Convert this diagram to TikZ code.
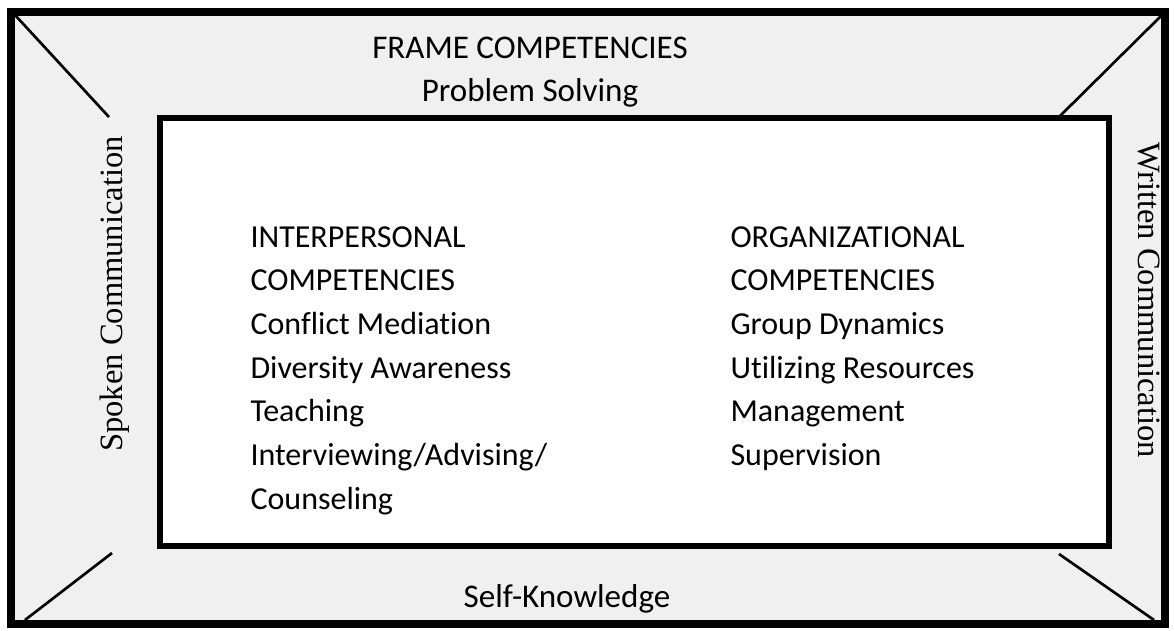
\documentclass[tikz,border=0pt]{standalone}
\usepackage{fontspec}
\setmainfont{Carlito}[Ligatures={NoCommon,NoContextual}]
\newfontfamily\sideface{Liberation Serif}
\definecolor{framegray}{RGB}{240,240,240}

\begin{document}
\begin{tikzpicture}[x=0.375pt, y=-0.375pt,
    every node/.style={inner sep=0pt, font=\fontsize{12}{14}\selectfont},
    sidetext/.style={font=\sideface\fontsize{12.2}{14}\selectfont},
    toptext/.style={font=\fontsize{12.4}{14}\selectfont}]

    % Fix the size of the page
    \useasboundingbox (0,0) rectangle (1174,630);

    % Define the corners of the outer frame and of the inner box
    \coordinate (OA) at (11,12);
    \coordinate (OB) at (1165,624);
    \coordinate (IA) at (160,118);
    \coordinate (IB) at (1109,546);

    % Draw the outer frame and the inner box
    \draw[line width=3pt, fill=framegray] (OA) rectangle (OB);
    \draw[line width=2pt, fill=white] (IA) rectangle (IB);

    % Define the ends of the corner lines
    \coordinate (TL) at (15,15);
    \coordinate (TLi) at (109,117);
    \coordinate (TR) at (1162,15);
    \coordinate (TRi) at (1060,116);
    \coordinate (BL) at (25,620);
    \coordinate (BLi) at (112,553);
    \coordinate (BR) at (1154,620);
    \coordinate (BRi) at (1059,554);

    % Draw the corner lines
    \draw[line width=1pt] (TL) -- (TLi);
    \draw[line width=1pt] (TR) -- (TRi);
    \draw[line width=1pt] (BL) -- (BLi);
    \draw[line width=1pt] (BR) -- (BRi);

    % Frame labels
    \node[toptext, anchor=base] (frame) at (530,58) {FRAME COMPETENCIES};
    \node[toptext, anchor=base] (problem) at (530,101) {Problem Solving};
    \node[toptext, anchor=base] (self) at (567,607) {Self-Knowledge};
    \node[sidetext, rotate=90, anchor=base] (spoken) at (123,294) {Spoken Communication};
    \node[sidetext, rotate=-90, anchor=base] (written) at (1138,300) {Written Communication};

    % Competencies in the inner box
    \foreach \txt [count=\i] in {INTERPERSONAL, COMPETENCIES, Conflict Mediation,
        Diversity Awareness, Teaching, Interviewing/Advising/, Counseling}
        \node[anchor=base west] (inter\i) at (250,{247+43.7*(\i-1)}) {\txt};
    \foreach \txt [count=\i] in {ORGANIZATIONAL, COMPETENCIES, Group Dynamics,
        Utilizing Resources, Management, Supervision}
        \node[anchor=base west] (organ\i) at (730,{247+43.7*(\i-1)}) {\txt};

\end{tikzpicture}
\end{document}
